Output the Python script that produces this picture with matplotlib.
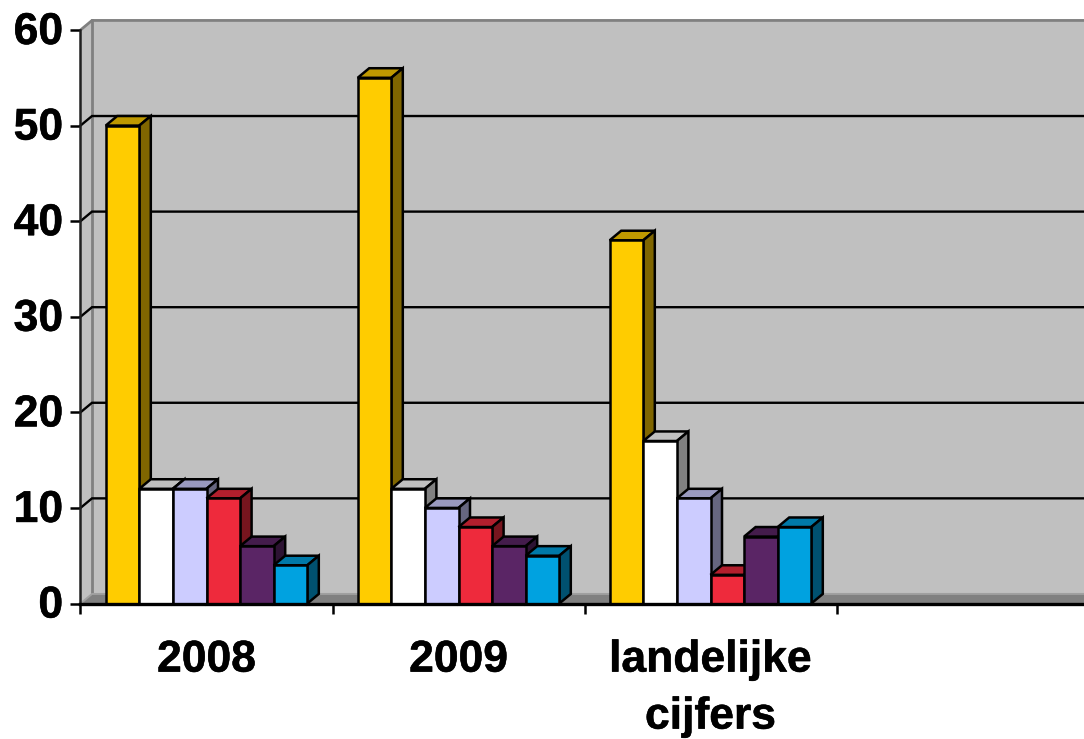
import matplotlib
matplotlib.use("Agg")
import matplotlib.pyplot as plt
from matplotlib.patches import Polygon
from matplotlib.transforms import ScaledTranslation
import matplotlib.patheffects as pe

plt.rcParams['font.family'] = ['Liberation Sans', 'DejaVu Sans']

categories = ['2008', '2009', 'landelijke\ncijfers', '']
series_a = [50, 55, 38]
series_b = [12, 12, 17]
series_c = [12, 10, 11]
series_d = [11, 8, 3]
series_e = [6, 6, 7]
series_f = [4, 5, 8]
y_ticks = [0, 10, 20, 30, 40, 50, 60]

all_series = [series_a, series_b, series_c, series_d, series_e, series_f]
fronts = ['#FFCC00', '#FFFFFF', '#CCCCFF', '#EE2A3C', '#5A2565', '#00A2E0']
tops = ['#BF9900', '#BFBFBF', '#9999BF', '#B21F2D', '#441C4C', '#0079A8']
sides = ['#806600', '#808080', '#666680', '#77151E', '#2D1333', '#005170']

W, H = 1084, 739
left_px = 80.5
fig = plt.figure(figsize=(W / 100, H / 100), dpi=100, facecolor='white')
ax = fig.add_axes([left_px / W, (H - 603.5) / H, (W - left_px) / W, (603.5 - 30) / H])
cat_w = 252.0
xmax = (W - left_px) / cat_w
ax.set_xlim(0, xmax)
ax.set_ylim(0, 60)
for s in ax.spines.values():
    s.set_visible(False)
ax.patch.set_visible(False)

dx = 11.5 / cat_w
dy = 1.0
bar_w = 1 / 7.5
gap = 0.75 * bar_w
lw = 1.8
ymax = y_ticks[-1]


def poly(pts, fc, ec='black', z=2, lw_=lw):
    ax.add_patch(Polygon(pts, closed=True, facecolor=fc, edgecolor=ec, linewidth=lw_,
                         clip_on=False, zorder=z, joinstyle='miter'))


# walls and floor
poly([(dx, dy), (xmax, dy), (xmax, ymax + dy), (dx, ymax + dy)], '#C0C0C0', 'none', 1, 0)
poly([(0, 0), (dx, dy), (dx, ymax + dy), (0, ymax)], '#C0C0C0', 'none', 1, 0)
poly([(0, 0), (dx, dy), (xmax, dy), (xmax, 0)], '#808080', 'none', 1, 0)
ax.plot([0, dx, xmax], [ymax, ymax + dy, ymax + dy], color='#808080', lw=2.0, zorder=1.5, clip_on=False,
        solid_capstyle='butt')
ax.plot([dx, dx], [dy, ymax + dy], color='#808080', lw=2.0, zorder=1.5, clip_on=False)
ax.plot([0, dx, xmax], [0, dy, dy], color='#A0A0A0', lw=1.4, zorder=1.5, clip_on=False)

# gridlines on the wall
for t in y_ticks[1:-1]:
    ax.plot([0, dx, xmax], [t, t + dy, t + dy], color='black', lw=1.7, zorder=1.6, clip_on=False,
            solid_joinstyle='miter')

# bars
z = 3
for c in range(3):
    for i, vals in enumerate(all_series):
        x0 = c + gap + i * bar_w
        x1 = x0 + bar_w
        v = vals[c]
        poly([(x0, v), (x0 + dx, v + dy), (x1 + dx, v + dy), (x1, v)], tops[i], z=z)
        poly([(x1, 0), (x1 + dx, dy), (x1 + dx, v + dy), (x1, v)], sides[i], z=z)
        poly([(x0, 0), (x1, 0), (x1, v), (x0, v)], fronts[i], z=z + 0.5)
        z += 1

# axes lines
ax.plot([0, 0], [0, ymax], color='#202020', lw=1.8, zorder=z, clip_on=False)
ax.plot([0, xmax], [0, 0], color='black', lw=2.4, zorder=z, clip_on=False)

ax.set_yticks(y_ticks)
ax.set_yticklabels([str(t) for t in y_ticks], fontsize=32, fontweight='bold', color='black')
ax.tick_params(axis='y', length=7.5, width=1.8, pad=5, color='black')
ax.set_xticks(range(4))
ax.set_xticklabels([])
ax.tick_params(axis='x', which='major', length=7.5, width=1.8, color='black')
ax.set_xticks([0.5, 1.5, 2.5, 3.5], minor=True)
ax.set_xticklabels(categories, minor=True, fontsize=32, fontweight='bold', color='black', linespacing=1.5)
ax.tick_params(axis='x', which='minor', length=0, pad=26)

shift_up = ScaledTranslation(0, 2 / 100, fig.dpi_scale_trans)
stroke = [pe.withStroke(linewidth=0.4, foreground='black')]
for lab in ax.get_yticklabels():
    lab.set_transform(lab.get_transform() + shift_up)
    lab.set_path_effects(stroke)
for lab in ax.get_xticklabels(minor=True):
    lab.set_path_effects(stroke)

fig.savefig('out.png', dpi=100, facecolor='white')
